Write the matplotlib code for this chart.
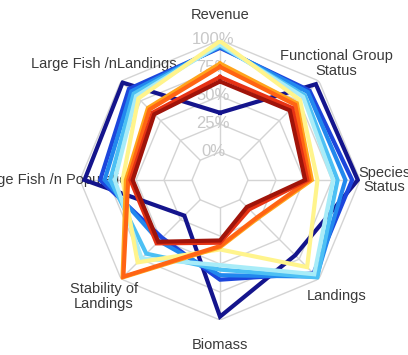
import numpy as np
import matplotlib
matplotlib.use('Agg')
import matplotlib.pyplot as plt
from matplotlib.transforms import offset_copy

# spoke labels, clockwise from the top
labels = ['Revenue', 'Functional Group\nStatus', 'Species\nStatus', 'Landings',
          'Biomass', 'Stability of\nLandings', 'Large Fish /n Population',
          'Large Fish /nLandings']
ring_levels = [0, 25, 50, 75, 100]
ring_labels = ['0%', '25%', '50%', '75%', '100%']

# one row per scenario, values in percent along each spoke
navy = [35, 96, 98, 70, 97, 20, 96, 98]
blue = [93, 88, 93, 93, 64, 48, 82, 90]
dodger = [94, 86, 87, 97, 60, 52, 78, 87]
lightblue = [95, 82, 80, 98, 55, 68, 73, 84]
palecyan = [96, 80, 76, 94, 51, 74, 69, 81]
paleyellow = [99, 76, 62, 85, 37, 79, 62, 78]
orange = [79, 72, 57, 23, 35, 98, 59, 66]
orangered = [76, 70, 55, 22, 34, 97, 57, 64]
red = [67, 66, 53, 12, 31, 55, 55, 60]
darkred = [63, 63, 51, 9, 29, 53, 53, 58]

series = [navy, blue, dodger, lightblue, palecyan, paleyellow,
          orange, orangered, red, darkred]
colors = ['#14148c', '#1c46dc', '#2288ee', '#4cc0f4', '#a8ecf8', '#fff48c',
          '#ffa41c', '#ff6414', '#e63214', '#a0140a']

n = len(labels)
theta = np.arange(n) * 2 * np.pi / n
theta_c = np.append(theta, theta[0])

fig = plt.figure(figsize=(4.08, 3.55), dpi=100)
ax = fig.add_axes([80 / 408, 35 / 355, 280 / 408, 280 / 355], projection='polar')
ax.set_theta_offset(np.pi / 2)
ax.set_theta_direction(-1)
ax.set_ylim(-25, 100)
ax.grid(False)
ax.set_xticks([])
ax.set_yticks([])
ax.spines['polar'].set_visible(False)

# polygon rings and spokes
for lev in ring_levels:
    ax.plot(theta_c, [lev] * (n + 1), color='#d4d4d4', lw=1, zorder=1)
for t in theta:
    ax.plot([t, t], [0, 100], color='#d4d4d4', lw=1, zorder=1)

# ring values along the top spoke
tr = offset_copy(ax.transData, fig=fig, x=-7, y=0, units='dots')
for lev, txt in zip(ring_levels, ring_labels):
    ax.text(0, lev, txt, transform=tr, ha='center', va='center',
            fontsize=12, color='#c8c8c8', family='Liberation Sans', zorder=2)

for vals, c in zip(series, colors):
    ax.plot(theta_c, vals + vals[:1], color=c, lw=3.0, zorder=3,
            solid_joinstyle='miter')

for t, lab in zip(theta, labels):
    ax.text(t, 122, lab, ha='center', va='center', fontsize=10.5,
            color='#3a3a3a', family='Liberation Sans', linespacing=1.05,
            zorder=2, clip_on=False)

fig.savefig('out.png', dpi=100, facecolor='white')
